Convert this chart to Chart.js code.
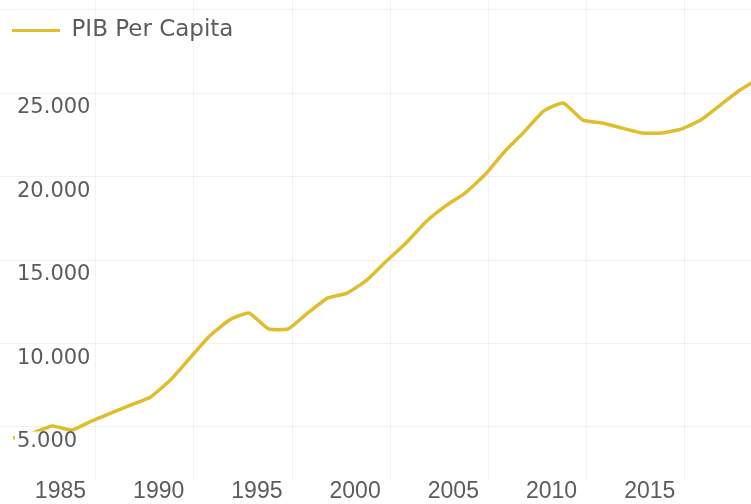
<!DOCTYPE html>
<html>
<head>
<meta charset="utf-8">
<script src="https://cdn.jsdelivr.net/npm/chart.js@4.4.1/dist/chart.umd.min.js"></script>
<style>
  html, body { margin: 0; padding: 0; background: #fff; }
  #wrap { width: 751px; height: 504px; }
</style>
</head>
<body>
<div id="wrap"><canvas id="pibChart"></canvas></div>
<script>
const years = [1983, 1984, 1985, 1986, 1987, 1988, 1989, 1990, 1991, 1992,
    1993, 1994, 1995, 1996, 1997, 1998, 1999, 2000, 2001, 2002,
    2003, 2004, 2005, 2006, 2007, 2008, 2009, 2010, 2011, 2012,
    2013, 2014, 2015, 2016, 2017, 2018, 2019, 2020, 2021];
const pibPerCapita = [4340, 4640, 5060, 4820, 5360, 5840, 6320, 6800, 7810, 9130,
    10450, 11400, 11830, 10870, 10870, 11830, 12720, 13020, 13800, 14940,
    16020, 17280, 18230, 19010, 20090, 21470, 22660, 23920, 24400, 23380,
    23200, 22900, 22600, 22600, 22840, 23380, 24280, 25180, 25900];
const yearTicks = [1985, 1990, 1995, 2000, 2005, 2010, 2015];
const gridYears = [1987.2, 1992.2, 1997.2, 2002.2, 2007.2, 2012.2, 2017.2];
const valueTicks = [5000, 10000, 15000, 20000, 25000, 30000];

const lineColor = '#dfbd2d';
const textColor = '#5c5c5c';
const gridColor = 'rgba(0, 0, 0, 0.05)';

Chart.defaults.font.family = 'DejaVu Sans';
Chart.defaults.font.size = 20;

// push the legend a little lower inside the plot area
const legendShift = {
    id: 'legendShift',
    afterLayout(chart) {
        if (chart.legend) {
            chart.legend.top += 7;
            chart.legend.bottom += 7;
        }
    }
};

new Chart(document.getElementById('pibChart'), {
    type: 'line',
    data: {
        datasets: [{
            label: 'PIB Per Capita',
            data: years.map((year, i) => ({ x: year, y: pibPerCapita[i] })),
            borderColor: lineColor,
            backgroundColor: lineColor,
            borderWidth: 3.5,
            pointRadius: 0,
            tension: 0.15,
            fill: false
        }]
    },
    plugins: [legendShift],
    options: {
        responsive: true,
        maintainAspectRatio: false,
        animation: false,
        layout: { padding: 0 },
        plugins: {
            tooltip: { enabled: false },
            legend: {
                position: 'chartArea',
                align: 'start',
                labels: {
                    boxWidth: 48,
                    boxHeight: 3,
                    color: textColor,
                    padding: 12,
                    font: { size: 23 },
                    generateLabels: chart => Chart.defaults.plugins.legend.labels
                        .generateLabels(chart).map(item => ({ ...item, lineWidth: 0 }))
                }
            }
        },
        scales: {
            x: {
                type: 'linear',
                min: 1982.33,
                max: 2020.56,
                grid: { display: false },
                border: { display: false },
                afterBuildTicks: scale => {
                    scale.ticks = yearTicks.map(v => ({ value: v }));
                },
                afterFit: scale => {
                    scale.height = 24;
                    scale.paddingLeft = 0;
                    scale.paddingRight = 0;
                },
                ticks: {
                    color: textColor,
                    padding: -8,
                    labelOffset: 8,
                    maxRotation: 0,
                    autoSkip: false,
                    font: { family: 'Liberation Sans', size: 23, lineHeight: 1 },
                    callback: value => String(value)
                }
            },
            xg: {
                type: 'linear',
                position: 'bottom',
                min: 1982.33,
                max: 2020.56,
                border: { display: false },
                grid: { color: gridColor, drawTicks: false },
                afterBuildTicks: scale => {
                    scale.ticks = gridYears.map(v => ({ value: v }));
                },
                afterFit: scale => { scale.height = 0; },
                ticks: { display: false }
            },
            y: {
                min: 1826,
                max: 30570,
                position: 'left',
                border: { display: false },
                grid: { color: gridColor, drawTicks: false },
                afterBuildTicks: scale => {
                    scale.ticks = valueTicks.map(v => ({ value: v }));
                },
                afterFit: scale => {
                    scale.width = 0;
                    scale.paddingTop = 0;
                    scale.paddingBottom = 0;
                },
                ticks: {
                    z: 1,
                    mirror: true,
                    padding: 17,
                    labelOffset: 15,
                    color: textColor,
                    showLabelBackdrop: true,
                    backdropColor: ctx => ctx.tick && ctx.tick.value === 30000 ? 'rgba(0,0,0,0)' : '#ffffff',
                    backdropPadding: { top: 0, bottom: 0, left: 2, right: 2 },
                    font: { size: 21, lineHeight: 1 },
                    callback: value => value === 30000 ? '' : value.toLocaleString('de-DE')
                }
            }
        }
    }
});
</script>
</body>
</html>
